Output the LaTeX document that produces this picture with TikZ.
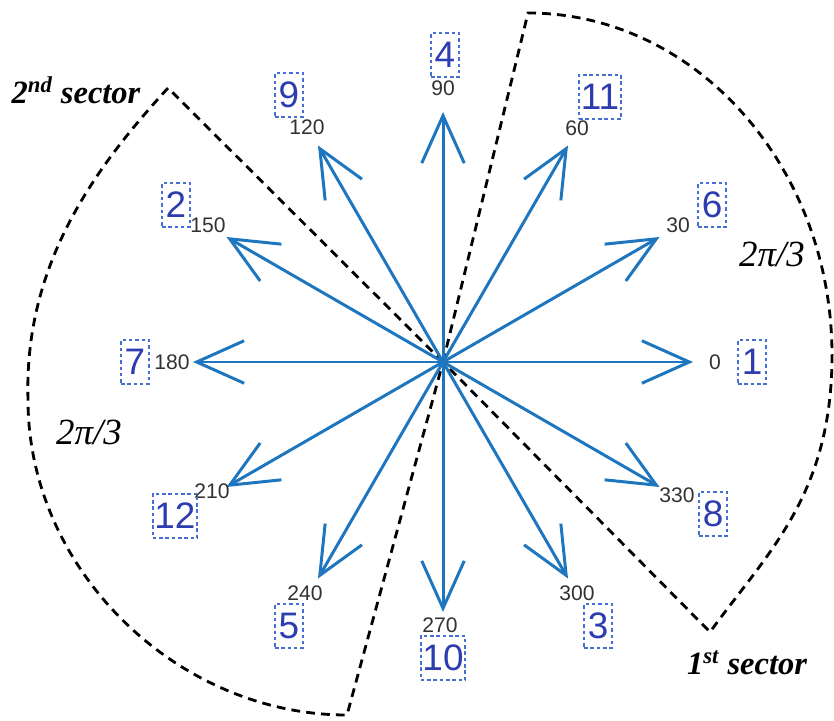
\documentclass[tikz,border=0pt]{standalone}
\usepackage{fontspec}
\setmainfont{Liberation Serif}
\setsansfont{Liberation Sans}
\usetikzlibrary{arrows.meta, calc}
\definecolor{vecBlue}{RGB}{30, 118, 190}
\definecolor{numBlue}{RGB}{45, 60, 175}
\definecolor{boxBlue}{RGB}{70, 110, 215}
\definecolor{angGray}{RGB}{50, 50, 50}

\begin{document}
\begin{tikzpicture}[
    x=0.02cm, y=0.02cm,
    vec/.style={draw=vecBlue, line width=1.7pt,
                -{Straight Barb[length=0.95cm, width=0.85cm]}},
    anglabel/.style={font=\sffamily\fontsize{12}{12}\selectfont,
                     text=angGray, inner sep=1pt},
    numbox/.style={draw=boxBlue, line width=1.2pt, dash pattern=on 2pt off 1.6pt,
                   text=numBlue, font=\sffamily\fontsize{21}{21}\selectfont,
                   minimum width=0.56cm, minimum height=0.88cm, inner sep=1pt},
    sector/.style={draw=black, line width=1.6pt, dash pattern=on 5pt off 3.5pt},
    seclabel/.style={font=\bfseries\itshape\fontsize{18.5}{18.5}\selectfont},
    spanlabel/.style={font=\itshape\fontsize{21}{21}\selectfont},
  ]
    \useasboundingbox (0,0) rectangle (834,720);

    \coordinate (O) at (443,358);

    % 1st sector
    \coordinate (S1a) at (528,707);
    \coordinate (S1r) at (832,365);
    \coordinate (S1b) at (710,88);
    \draw[sector] (O) -- (S1a) .. controls (696,707) and (832,553) .. (S1r)
      .. controls (832,226) and (769,169) .. (S1b) -- (O);

    % 2nd sector
    \coordinate (S2a) at (168,632);
    \coordinate (S2l) at (28,320);
    \coordinate (S2b) at (347,5);
    \draw[sector] (O) -- (S2a) .. controls (88,545) and (24,450) .. (S2l)
      .. controls (28,150) and (177,5) .. (S2b) -- (O);

    % Voltage vectors
    \foreach \a in {0,30,...,330} {
      \coordinate (T\a) at ($(O)+(\a:250)$);
      \draw[vec] (O) -- (T\a);
    }

    % Angle labels
    \foreach \a/\lx/\ly in {0/715/358, 30/678/495, 60/577/592, 90/443/632,
                            120/307/593, 150/208/495, 180/172/358, 210/212/229,
                            240/305/127, 270/440/95, 300/577/127, 330/677/225}
      \node[anglabel] (ang\a) at (\lx,\ly) {\a};

    % Vector numbers
    \foreach \n/\bx/\by in {1/752/358, 6/712/515, 11/600/623, 4/445/665,
                            9/289/625, 2/176/515, 7/135/358, 12/175/204,
                            5/289/94, 10/443/62, 3/598/94, 8/713/206}
      \node[numbox] (num\n) at (\bx,\by) {\n};

    % Sector labels
    \node[seclabel] (SEC2) at (76,630) {2\textsuperscript{nd} sector};
    \node[seclabel] (SEC1) at (747,57) {1\textsuperscript{st} sector};
    \node[spanlabel] (SPAN1) at (772,466) {2π/3};
    \node[spanlabel] (SPAN2) at (89,288) {2π/3};
  \end{tikzpicture}
\end{document}
